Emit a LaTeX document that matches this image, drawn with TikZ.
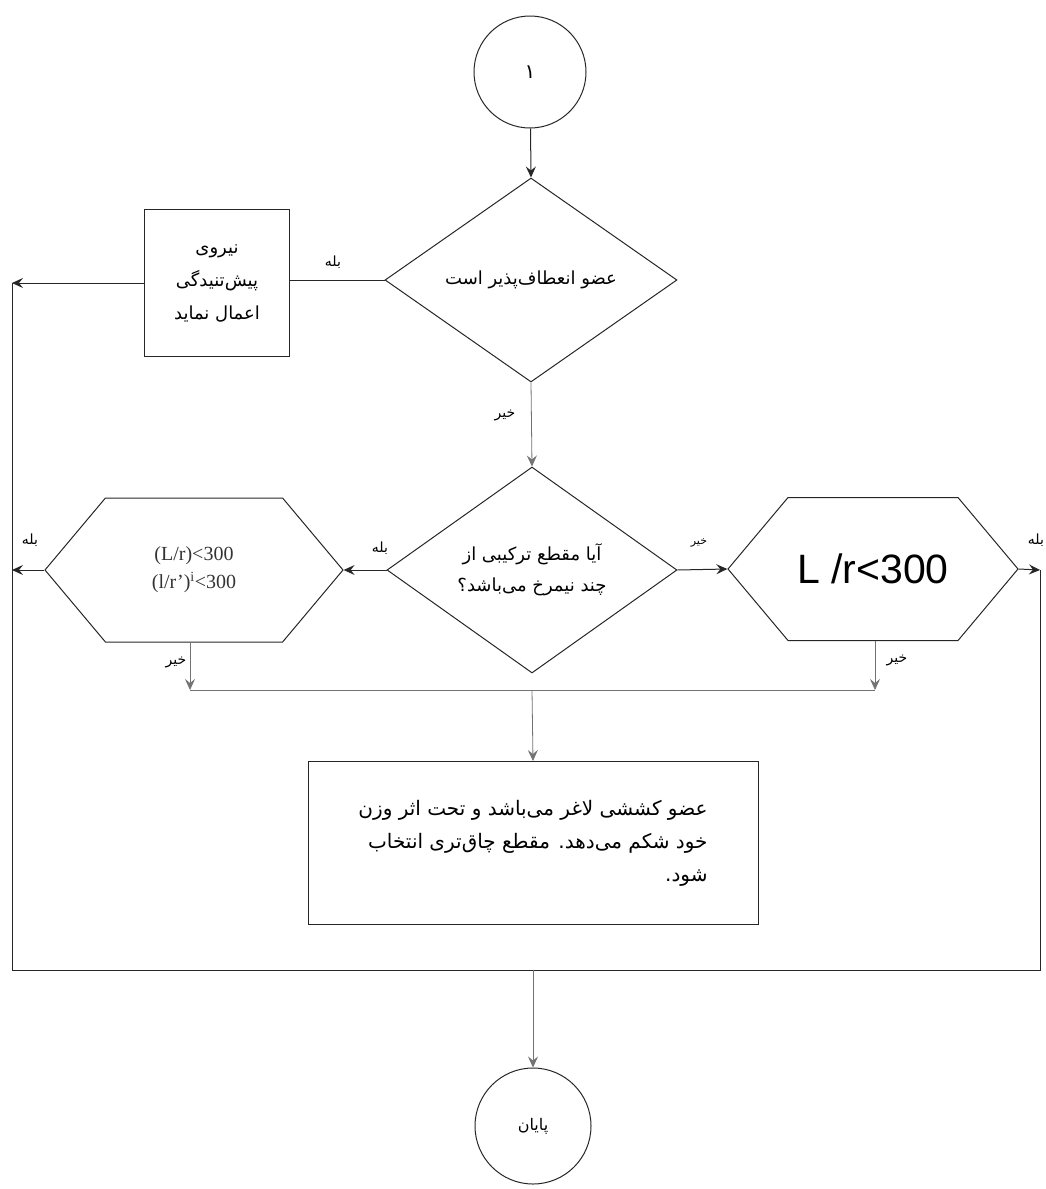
\documentclass[tikz,border=0pt]{standalone}
\usepackage{fontspec}
\setmainfont{Liberation Serif}
\newfontfamily\fa[Script=Arabic]{DejaVu Sans}
\newfontfamily\arial{Liberation Sans}
\TeXXeTstate=1
\usetikzlibrary{shapes.geometric,shapes.symbols,arrows.meta}
\begin{document}
\begin{tikzpicture}[x=1pt,y=-1pt,
  line/.style={draw=black!85, line width=1pt},
  arr/.style={line, -{Stealth[length=11pt,width=10pt,inset=4pt]}},
  faint/.style={draw=black!55, line width=0.8pt},
  farr/.style={faint, -{Stealth[length=11pt,width=10pt,inset=4pt]}},
  term/.style={circle, draw=black!85, line width=1pt, minimum size=112pt, inner sep=0pt, font=\fa\fontsize{16}{18}\selectfont},
  decision/.style={diamond, draw=black!85, line width=1pt, inner sep=0pt, align=center, font=\fa\fontsize{18}{31}\selectfont},
  hexa/.style={signal, signal to=west and east, signal pointer angle=100, draw=black!85, line width=1pt, inner sep=0pt},
  proc/.style={rectangle, draw=black!85, line width=1pt, inner sep=0pt},
  lbl/.style={font=\fa\fontsize{14}{16}\selectfont, inner sep=1pt},
]
\useasboundingbox (0,0) rectangle (1045,1189);

% nodes
\node[term, font=\fa\fontsize{20}{22}\selectfont] (c1) at (530,72) {\beginR ۱\endR};
\node[decision, minimum width=292pt, minimum height=204pt] (d1) at (531,280) {\beginR عضو انعطاف‌پذیر است\endR};
\node[proc, minimum width=145pt, minimum height=147pt, align=center, font=\fa\fontsize{18}{33}\selectfont] (b1) at (217,283)
  {\beginR نیروی\endR\\\beginR پیش‌تنیدگی\endR\\\beginR اعمال نماید\endR};
\node[decision, minimum width=290pt, minimum height=206pt] (d2) at (532,570)
  {\beginR آیا مقطع ترکیبی از\endR\\\beginR چند نیمرخ می‌باشد؟\endR};
\node[hexa, minimum width=298pt, minimum height=144pt, align=center, font=\fontsize{20}{28}\selectfont, text=black!80] (hl) at (194,570)
  {(L/r)<300\\(l/r')\textsuperscript{i}<300};
\node[hexa, minimum width=290pt, minimum height=143pt, font=\arial\fontsize{41}{44}\selectfont] (hr) at (873,569) {L /r<300};
\node[proc, minimum width=450pt, minimum height=163pt, align=right, font=\fa\fontsize{20}{33}\selectfont] (b2) at (533,843)
  {\beginR عضو کششی لاغر می‌باشد و تحت اثر وزن\endR\\\beginR خود شکم می‌دهد. مقطع چاق‌تری انتخاب\endR\\\beginR شود.\endR};
\node[term, minimum size=116pt] (c2) at (533,1126) {\beginR پایان\endR};

% coordinates
\coordinate (L1) at (12,283);
\coordinate (L2) at (12,570);
\coordinate (LB) at (12,970);
\coordinate (RB) at (1040,970);
\coordinate (R2) at (1040,570);
\coordinate (ML) at (190,690);
\coordinate (MR) at (875,690);
\coordinate (MC) at (532,690);
\coordinate (BC) at (533,970);

% connectors
\draw[arr] (c1) -- (d1.north);
\draw[line] (d1.west) -- (b1.east |- d1.west);
\draw[arr] (b1.west |- L1) -- (L1);
\draw[line] (L1) -- (LB) -- (RB) -- (R2);
\draw[farr] (d1.south) -- (d2.north);
\draw[arr] (d2.west) -- (hl.east);
\draw[arr] (hl.west) -- (L2);
\draw[arr] (d2.east) -- (hr.west);
\draw[arr] (hr.east) -- (R2);
\draw[farr] (hl.south -| ML) -- (ML);
\draw[farr] (hr.south -| MR) -- (MR);
\draw[faint] (ML) -- (MR);
\draw[farr] (MC) -- (b2.north);
\draw[farr] (BC) -- (c2.north);

% labels
\node[lbl] (t1) at (333,262) {\beginR بله\endR};
\node[lbl] (t2) at (505,415) {\beginR خیر\endR};
\node[lbl] (t3) at (380,548) {\beginR بله\endR};
\node[lbl] (t4) at (30,540) {\beginR بله\endR};
\node[lbl, font=\fa\fontsize{11}{13}\selectfont] (t5) at (699,543) {\beginR خیر\endR};
\node[lbl] (t6) at (1036,540) {\beginR بله\endR};
\node[lbl] (t7) at (176,662) {\beginR خیر\endR};
\node[lbl] (t8) at (897,660) {\beginR خیر\endR};
\end{tikzpicture}
\end{document}
